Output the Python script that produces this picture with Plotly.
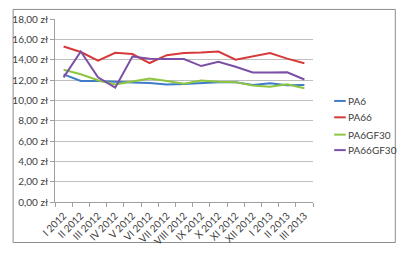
import plotly.graph_objects as go

months = ["I 2012", "II 2012", "III 2012", "IV 2012", "V 2012", "VI 2012", "VII 2012",
          "VIII 2012", "IX 2012", "X 2012", "XI 2012", "XII 2012", "I 2013", "II 2013", "III 2013"]
pa6 = [12.55, 11.9, 11.9, 11.8, 11.76, 11.7, 11.55, 11.6, 11.72, 11.79, 11.79, 11.52, 11.67, 11.49, 11.52]
pa66 = [15.3, 14.75, 13.9, 14.68, 14.55, 13.67, 14.44, 14.65, 14.7, 14.8, 14.0, 14.3, 14.65, 14.1, 13.64]
pa6gf30 = [13.0, 12.56, 11.97, 11.55, 11.85, 12.15, 11.9, 11.64, 11.95, 11.82, 11.79, 11.46, 11.34, 11.58, 11.19]
pa66gf30 = [12.26, 14.8, 12.26, 11.25, 14.3, 14.1, 14.06, 14.06, 13.37, 13.8, 13.3, 12.74, 12.74, 12.76, 12.05]

yticks = [0, 2, 4, 6, 8, 10, 12, 14, 16, 18]
yticktext = ["%d,00 zł" % v for v in yticks]

series = [("PA6", pa6, "#3F7CC8"), ("PA66", pa66, "#D63A3A"),
          ("PA6GF30", pa6gf30, "#8DC63F"), ("PA66GF30", pa66gf30, "#7B4FA6")]

fig = go.Figure()
for name, vals, col in series:
    fig.add_trace(go.Scatter(x=months, y=vals, name=name, mode="lines",
                             line=dict(color=col, width=2), showlegend=False))

L, R, T, B = 45, 87, 12, 46
W, H = 400, 259
pw, ph = W - L - R, H - T - B

def px(x):
    return (x - L) / pw

def py(y):
    return 1 - (y - T) / ph

FONT = "Lato, Open Sans, sans-serif"
fig.update_layout(
    width=W, height=H,
    margin=dict(l=L, r=R, t=T, b=B, pad=0),
    paper_bgcolor="white", plot_bgcolor="white",
    font=dict(family=FONT, size=10, color="#404040"),
    showlegend=False,
    xaxis=dict(type="category", tickangle=-45, tickson="boundaries", ticks="outside",
               ticklen=4, tickcolor="#A0A0A0", showline=True, linecolor="#A0A0A0",
               linewidth=1, showgrid=False, tickfont=dict(family=FONT, size=10, color="#404040"),
               ticklabelstandoff=3, range=[-0.5, 14.5]),
    yaxis=dict(range=[0, 18], tickvals=yticks, ticktext=yticktext, ticks="outside",
               ticklen=4, tickcolor="#A0A0A0", showline=True, linecolor="#A0A0A0",
               linewidth=1, showgrid=True, gridcolor="#BFBFBF", gridwidth=1,
               zeroline=False, tickfont=dict(family=FONT, size=10, color="#404040")),
)

# manual legend
leg_y = [102, 120, 139, 156]
for (name, vals, col), yy in zip(series, leg_y):
    fig.add_shape(type="line", xref="paper", yref="paper",
                  x0=px(335), x1=px(347), y0=py(yy), y1=py(yy),
                  line=dict(color=col, width=2))
    fig.add_annotation(xref="paper", yref="paper", x=px(347), y=py(yy),
                       text=name, showarrow=False, xanchor="left", yanchor="middle",
                       font=dict(family=FONT, size=10, color="#404040"))

fig.add_shape(type="rect", xref="paper", yref="paper",
              x0=(-L + 1.5) / pw, x1=1 + (R - 1.5) / pw,
              y0=(-B + 1.5) / ph, y1=1 + (T - 1.5) / ph,
              line=dict(color="#8C8C8C", width=1), fillcolor="rgba(0,0,0,0)", layer="below")

fig.write_html("out.html")
